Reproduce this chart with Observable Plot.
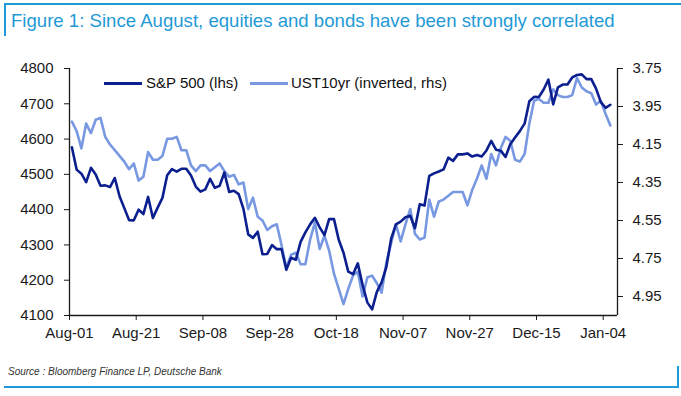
<!DOCTYPE html>
<html>
<head>
<meta charset="utf-8">
<script src="https://cdn.jsdelivr.net/npm/d3@7"></script>
<script src="https://cdn.jsdelivr.net/npm/@observablehq/plot@0.6"></script>
<style>
  html, body { margin: 0; padding: 0; background: #fff; }
  #wrap { position: relative; width: 681px; height: 396px; overflow: hidden; font-family: "Liberation Sans", Arial, sans-serif; }
  .bar { position: absolute; background: #1f9ad6; }
  #title { position: absolute; left: 11px; top: 9px; font-size: 18.6px; color: #1f9ad6; white-space: nowrap; line-height: 24px; }
  #chart { position: absolute; left: 0; top: 50px; }
  .leg { position: absolute; top: 74px; font-size: 15px; color: #111; white-space: nowrap; line-height: 18px; }
  .sw { position: absolute; height: 3px; top: 82px; }
  #source { position: absolute; left: 8px; top: 366px; font-size: 10px; font-style: italic; color: #333; white-space: nowrap; }
</style>
</head>
<body>
<div id="wrap">
  <div class="bar" style="left:4px; top:3px; width:677px; height:2px;"></div>
  <div class="bar" style="left:4px; top:3px; width:2px; height:33px;"></div>
  <div id="title">Figure 1: Since August, equities and bonds have been strongly correlated</div>
  <div id="chart"></div>
  <div class="sw" style="left:104px; width:38px; background:#0c1f8f;"></div>
  <div class="leg" style="left:146px;">S&amp;P 500 (lhs)</div>
  <div class="sw" style="left:250px; width:38px; background:#7898e2;"></div>
  <div class="leg" style="left:291px;">UST10yr (inverted, rhs)</div>
  <div id="source">Source : Bloomberg Finance LP, Deutsche Bank</div>
  <div class="bar" style="left:4px; top:386px; width:675px; height:2px;"></div>
  <div class="bar" style="left:677px; top:366px; width:2px; height:22px;"></div>
</div>
<script>
// S&P 500 daily closes (weekday calendar, Aug-01 .. Jan-05)
const spx = [
  4576.73, 4513.39, 4501.89, 4478.03, 4518.44, 4499.38, 4467.71, 4468.83, 4464.05, 4489.72,
  4437.86, 4404.33, 4370.36, 4369.71, 4399.77, 4387.55, 4436.01, 4376.31, 4405.71, 4433.31,
  4497.63, 4514.87, 4507.66, 4515.77, 4515.77, 4496.83, 4465.48, 4451.14, 4457.49, 4487.46,
  4461.90, 4467.44, 4505.10, 4450.32, 4453.53, 4443.95, 4402.20, 4330.00, 4320.06, 4337.44,
  4273.53, 4274.51, 4299.70, 4288.05, 4288.39, 4229.45, 4263.75, 4258.19, 4308.50, 4335.66,
  4358.24, 4376.95, 4349.61, 4327.78, 4373.63, 4373.20, 4314.60, 4278.00, 4224.16, 4217.04,
  4247.68, 4186.77, 4137.23, 4117.37, 4166.82, 4193.80, 4237.86, 4317.78, 4358.34, 4365.98,
  4378.38, 4382.78, 4347.35, 4415.24, 4411.55, 4495.70, 4502.88, 4508.24, 4514.02, 4547.38,
  4538.19, 4556.62, 4556.62, 4559.34, 4550.43, 4554.89, 4550.58, 4567.80, 4594.63, 4569.78,
  4567.18, 4549.34, 4585.59, 4604.37, 4622.44, 4643.70, 4707.09, 4719.55, 4719.19, 4740.56,
  4768.37, 4698.35, 4746.75, 4754.63, 4754.63, 4774.75, 4781.58, 4783.35, 4769.83, 4769.83,
  4742.83, 4704.81, 4688.68, 4697.24
];
// UST 10yr yield (%), plotted inverted on the right axis
const ust = [
  4.03, 4.08, 4.17, 4.04, 4.09, 4.02, 4.01, 4.11, 4.15, 4.18,
  4.21, 4.24, 4.28, 4.25, 4.34, 4.32, 4.19, 4.23, 4.23, 4.21,
  4.12, 4.12, 4.11, 4.18, 4.18, 4.26, 4.29, 4.26, 4.26, 4.29,
  4.27, 4.25, 4.29, 4.32, 4.31, 4.36, 4.35, 4.49, 4.43, 4.53,
  4.55, 4.60, 4.58, 4.57, 4.68, 4.80, 4.73, 4.72, 4.78, 4.78,
  4.65, 4.56, 4.70, 4.63, 4.71, 4.83, 4.91, 4.99, 4.91, 4.84,
  4.82, 4.95, 4.85, 4.84, 4.88, 4.93, 4.77, 4.67, 4.57, 4.66,
  4.57, 4.49, 4.62, 4.65, 4.64, 4.44, 4.53, 4.45, 4.44, 4.42,
  4.40, 4.40, 4.40, 4.47, 4.39, 4.33, 4.26, 4.33, 4.20, 4.26,
  4.17, 4.11, 4.13, 4.23, 4.24, 4.20, 4.04, 3.92, 3.91, 3.93,
  3.93, 3.86, 3.89, 3.90, 3.90, 3.89, 3.80, 3.85, 3.87, 3.88,
  3.94, 3.92, 3.99, 4.05
];
const xTickLabels = ["Aug-01", "Aug-21", "Sep-08", "Sep-28", "Oct-18", "Nov-07", "Nov-27", "Dec-15", "Jan-04"];
const leftTicks = [4100, 4200, 4300, 4400, 4500, 4600, 4700, 4800];
const rightTicks = [3.75, 3.95, 4.15, 4.35, 4.55, 4.75, 4.95];
const leftDomain = [4100, 4800];
const rightDomain = [5.05, 3.75]; // inverted
const nCategories = spx.length + 1; // axis spans one extra category slot
const tickEvery = 14; // one label every 14 weekdays

const toLeft = d3.scaleLinear().domain(rightDomain).range(leftDomain);
const data = spx.map((v, i) => ({ i, spx: v, ust: ust[i] }));
const tickIdx = xTickLabels.map((_, k) => k * tickEvery);

const chart = Plot.plot({
  width: 681,
  height: 295,
  marginLeft: 69,
  marginRight: 64,
  marginTop: 18,
  marginBottom: 30,
  x: { domain: [0, nCategories] },
  y: { domain: leftDomain },
  style: { fontFamily: "'Liberation Sans', Arial, sans-serif", fontSize: "15px", color: "#1a1a1a", background: "transparent", overflow: "visible" },
  marks: [
    Plot.axisY({ ticks: leftTicks, anchor: "left", tickSize: 5, tickPadding: 11, label: null, tickFormat: d => String(d) }),
    Plot.axisY({ ticks: rightTicks.map(toLeft), anchor: "right", tickSize: 5, tickPadding: 10, label: null,
                 tickFormat: d => toLeft.invert(d).toFixed(2) }),
    Plot.axisX({ ticks: tickIdx, tickSize: 5, tickPadding: 7, label: null,
                 tickFormat: d => xTickLabels[Math.round(d / tickEvery)] }),
    Plot.lineY(data, { x: d => d.i + 0.5, y: d => toLeft(d.ust), stroke: "#7898e2", strokeWidth: 2.6, strokeLinejoin: "round" }),
    Plot.lineY(data, { x: d => d.i + 0.5, y: "spx", stroke: "#0c1f8f", strokeWidth: 2.6, strokeLinejoin: "round" }),
    Plot.ruleX([0, nCategories], { stroke: "#1a1a1a", strokeWidth: 1.3 }),
    Plot.ruleY([leftDomain[0]], { stroke: "#1a1a1a", strokeWidth: 1.3 })
  ]
});
document.getElementById("chart").appendChild(chart);
</script>
</body>
</html>
